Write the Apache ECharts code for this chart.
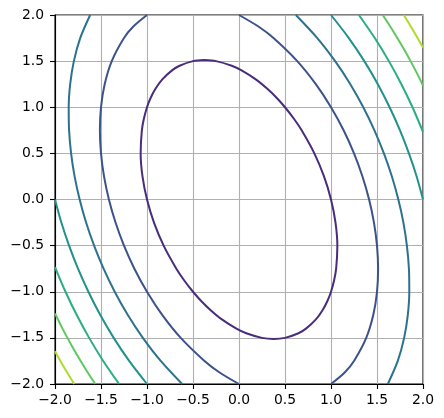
<!DOCTYPE html>
<html>
<head>
<meta charset="utf-8">
<script src="https://cdn.jsdelivr.net/npm/echarts@6/dist/echarts.min.js"></script>
<style>
  html, body { margin: 0; padding: 0; background: #fff; }
  #chart { width: 444px; height: 418px; }
</style>
</head>
<body>
<div id="chart"></div>
<script>
// contour levels and their viridis colours
const levels = [2, 4, 6, 8, 10, 12, 14]
const levelColors = ['#472d7b', '#3b528b', '#2c728e', '#21918c', '#28ae80', '#5ec962', '#addc30']

// tick values / labels (same on both axes)
const ticks = [-2, -1.5, -1, -0.5, 0, 0.5, 1, 1.5, 2]
const tickLabels = ['−2.0', '−1.5', '−1.0', '−0.5', '0.0', '0.5', '1.0', '1.5', '2.0']

// contour paths, [x, y]
const c2 = [[-0.378, 1.512], [-0.25, 1.5], [-0.079, 1.45], [0.028, 1.4], [0.186, 1.3], [0.308, 1.2], [0.411, 1.1], [0.5, 1.0],
  [0.597, 0.875], [0.681, 0.75], [0.819, 0.5], [0.924, 0.25], [1.0, 0], [1.049, -0.25], [1.069, -0.5], [1.056, -0.75],
  [1.034, -0.875], [1.0, -1.0], [0.961, -1.1], [0.908, -1.2], [0.836, -1.3], [0.728, -1.4], [0.646, -1.45], [0.5, -1.5],
  [0.378, -1.512], [0.25, -1.5], [0.079, -1.45], [-0.028, -1.4], [-0.186, -1.3], [-0.308, -1.2], [-0.411, -1.1], [-0.5, -1.0],
  [-0.597, -0.875], [-0.681, -0.75], [-0.819, -0.5], [-0.924, -0.25], [-1.0, 0], [-1.049, 0.25], [-1.069, 0.5], [-1.056, 0.75],
  [-1.034, 0.875], [-1.0, 1.0], [-0.961, 1.1], [-0.908, 1.2], [-0.836, 1.3], [-0.728, 1.4], [-0.646, 1.45], [-0.5, 1.5],
  [-0.378, 1.512]]
const c4a = [[0, 2], [0.211, 1.875], [0.375, 1.75], [0.633, 1.5], [0.835, 1.25], [1.0, 1.0], [1.137, 0.75], [1.25, 0.5],
  [1.342, 0.25], [1.414, 0], [1.467, -0.25], [1.5, -0.5], [1.512, -0.75], [1.5, -1.0], [1.46, -1.25], [1.383, -1.5],
  [1.25, -1.75], [1.149, -1.875], [1.0, -2]]
const c4b = [[-1.0, 2], [-1.149, 1.875], [-1.25, 1.75], [-1.383, 1.5], [-1.46, 1.25], [-1.5, 1.0], [-1.512, 0.75], [-1.5, 0.5],
  [-1.467, 0.25], [-1.414, 0], [-1.342, -0.25], [-1.25, -0.5], [-1.137, -0.75], [-1.0, -1.0], [-0.835, -1.25], [-0.633, -1.5],
  [-0.375, -1.75], [-0.211, -1.875], [0, -2]]
const c6a = [[0.618, 2], [0.851, 1.75], [1.045, 1.5], [1.21, 1.25], [1.351, 1.0], [1.472, 0.75], [1.575, 0.5], [1.662, 0.25],
  [1.732, 0], [1.787, -0.25], [1.825, -0.5], [1.847, -0.75], [1.851, -1.0], [1.835, -1.25], [1.795, -1.5], [1.726, -1.75],
  [1.618, -2]]
const c6b = [[-1.618, 2], [-1.726, 1.75], [-1.795, 1.5], [-1.835, 1.25], [-1.851, 1.0], [-1.847, 0.75], [-1.825, 0.5],
  [-1.787, 0.25], [-1.732, 0], [-1.662, -0.25], [-1.575, -0.5], [-1.472, -0.75], [-1.351, -1.0], [-1.21, -1.25],
  [-1.045, -1.5], [-0.851, -1.75], [-0.618, -2]]
const c8a = [[1.0, 2], [1.194, 1.75], [1.362, 1.5], [1.509, 1.25], [1.637, 1.0], [1.75, 0.75], [1.847, 0.5], [1.931, 0.25], [2.0, 0]]
const c8b = [[-2.0, 0], [-1.931, -0.25], [-1.847, -0.5], [-1.75, -0.75], [-1.637, -1.0], [-1.509, -1.25], [-1.362, -1.5], [-1.194, -1.75], [-1.0, -2]]
const c10a = [[1.303, 2], [1.476, 1.75], [1.629, 1.5], [1.765, 1.25], [1.886, 1.0], [2.0, 0.732]]
const c10b = [[-2.0, -0.732], [-1.886, -1.0], [-1.765, -1.25], [-1.629, -1.5], [-1.476, -1.75], [-1.303, -2]]
const c12a = [[1.562, 2], [1.644, 1.875], [1.721, 1.75], [1.795, 1.625], [1.865, 1.5], [1.931, 1.375], [2.0, 1.236]]
const c12b = [[-2.0, -1.236], [-1.931, -1.375], [-1.865, -1.5], [-1.795, -1.625], [-1.721, -1.75], [-1.644, -1.875], [-1.562, -2]]
const c14a = [[1.791, 2], [1.853, 1.9], [1.913, 1.8], [1.97, 1.7], [2.0, 1.646]]
const c14b = [[-2.0, -1.646], [-1.97, -1.7], [-1.913, -1.8], [-1.853, -1.9], [-1.791, -2]]

const paths = [
  [c2],
  [c4a, c4b],
  [c6a, c6b],
  [c8a, c8b],
  [c10a, c10b],
  [c12a, c12b],
  [c14a, c14b]
]

const font = 'DejaVu Sans'
const fmt = v => {
  const i = ticks.findIndex(t => Math.abs(t - v) < 1e-9)
  return i < 0 ? '' : tickLabels[i]
}

const axisCommon = {
  type: 'value',
  min: -2,
  max: 2,
  interval: 0.5,
  axisLine: { show: true, onZero: false, lineStyle: { color: '#000', width: 1.1 } },
  axisTick: { show: true, length: 5, lineStyle: { color: '#000', width: 1.1 } },
  splitLine: { show: true, lineStyle: { color: '#b0b0b0', width: 1.1 } },
  axisLabel: { color: '#000', fontFamily: font, fontSize: 13.9, formatter: fmt }
}

const series = []
paths.forEach((group, li) => {
  group.forEach(p => {
    series.push({
      type: 'line',
      name: 'level ' + levels[li],
      data: p,
      showSymbol: false,
      smooth: 0.3,
      clip: true,
      lineStyle: { color: levelColors[li], width: 2 },
      z: 3
    })
  })
})

const chart = echarts.init(document.getElementById('chart'), null, { renderer: 'canvas' })
chart.setOption({
  animation: false,
  backgroundColor: '#fff',
  grid: {
    left: 55,
    top: 15,
    width: 368,
    height: 369,
    show: true,
    borderColor: '#000',
    borderWidth: 1.1,
    containLabel: false
  },
  xAxis: Object.assign({}, axisCommon, {
    axisLabel: Object.assign({}, axisCommon.axisLabel, { margin: 9 })
  }),
  yAxis: Object.assign({}, axisCommon, {
    axisLabel: Object.assign({}, axisCommon.axisLabel, { margin: 11 })
  }),
  series: series
})
</script>
</body>
</html>
